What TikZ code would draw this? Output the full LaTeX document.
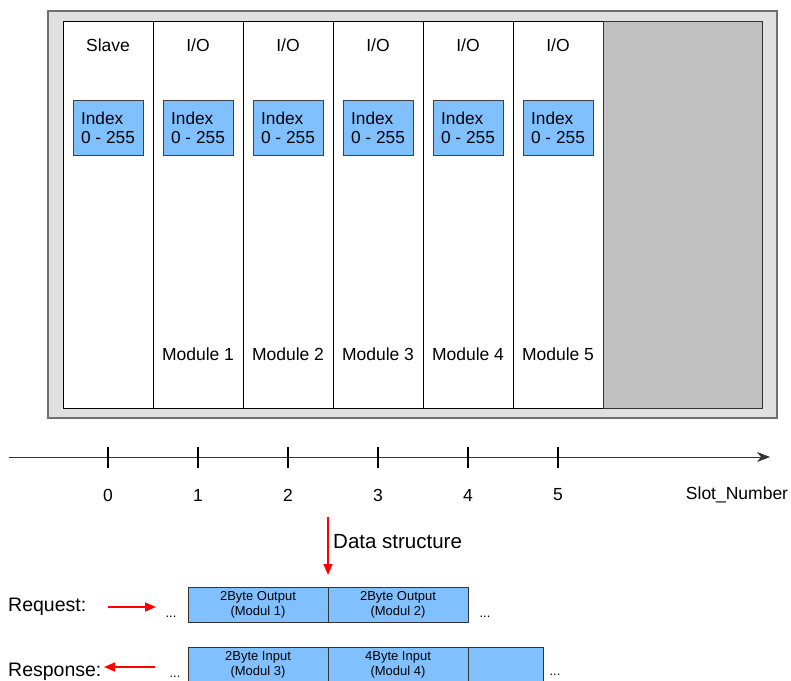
\documentclass[tikz,border=0pt]{standalone}
\usepackage{fontspec}
\setmainfont{Liberation Sans}
\usetikzlibrary{arrows.meta}
\definecolor{framefill}{HTML}{E0E0E0}
\definecolor{framedraw}{HTML}{707070}
\definecolor{emptyslot}{HTML}{C0C0C0}
\definecolor{idxblue}{HTML}{80C0FF}
\definecolor{arrowred}{HTML}{FF0000}
\begin{document}
\begin{tikzpicture}[x=1pt,y=-1pt,
  outerframe/.style={draw=framedraw,fill=framefill,line width=1.4pt,inner sep=0pt,minimum width=729pt,minimum height=407pt},
  slotcol/.style={draw=black,fill=white,line width=0.8pt,inner sep=0pt,minimum width=90pt,minimum height=387pt},
  emptycol/.style={draw=black!80,fill=emptyslot,line width=0.8pt,inner sep=0pt,minimum width=159pt,minimum height=387pt},
  idxbox/.style={draw=black!75,fill=idxblue,line width=0.7pt,minimum width=70pt,minimum height=55pt,inner sep=0pt,align=left,font=\fontsize{17.3}{19}\selectfont},
  bigtxt/.style={font=\fontsize{17.5}{19}\selectfont,inner sep=0pt},
  hugetxt/.style={font=\fontsize{19.5}{22}\selectfont,inner sep=0pt},
  datatxt/.style={font=\fontsize{20.5}{22}\selectfont,inner sep=0pt},
  databox/.style={draw=black!80,fill=idxblue,line width=0.8pt,minimum height=35pt,inner sep=0pt,align=center,font=\fontsize{13}{15}\selectfont},
  dots/.style={font=\fontsize{13}{15}\selectfont,inner sep=0pt},
  redarrow/.style={draw=arrowred,line width=1.5pt,-{Triangle[length=11pt,width=9pt]},fill=arrowred},
  tickmark/.style={draw=black,line width=1.4pt}
]
\useasboundingbox (0,0) rectangle (791,680);
\clip (0,0) rectangle (791,680);

% frame
\node[outerframe] (frame) at (412.5,214.5) {};
\foreach \i in {0,...,5}{
  \node[slotcol] (col\i) at (108+90*\i,214.5) {};
}
\node[emptycol] (empty) at (682.5,214.5) {};

% column headings
\node[bigtxt] (h0) at (108,45) {Slave};
\foreach \i in {1,...,5}{
  \node[bigtxt] (h\i) at (108+90*\i,45) {I/O};
}
% index boxes
\foreach \i in {0,...,5}{
  \node[idxbox] (idx\i) at (108+90*\i,127.5) {Index\\0 - 255};
}
% module labels
\foreach \i in {1,...,5}{
  \node[bigtxt] (m\i) at (108+90*\i,354) {Module \i};
}

% axis
\coordinate (ax0) at (9,457);
\coordinate (ax1) at (770,457);
\draw[black!80,line width=0.9pt,-{Stealth[length=13pt,width=10pt,inset=4pt]}] (ax0) -- (ax1);
\foreach \i in {0,...,5}{
  \coordinate (tt\i) at (108+90*\i,447);
  \coordinate (tb\i) at (108+90*\i,468);
  \draw[tickmark] (tt\i) -- (tb\i);
  \node[bigtxt] (n\i) at (108+90*\i,495) {\i};
}
\node[bigtxt] (slot) at (737,495) {Slot\_Number};

% data structure arrow
\coordinate (ds0) at (328,517);
\coordinate (ds1) at (328,575);
\draw[redarrow] (ds0) -- (ds1);
\node[datatxt,anchor=west] (dslabel) at (333,542) {Data structure};

% request row
\node[hugetxt,anchor=west] (req) at (8,607) {Request:};
\node[databox,minimum width=140pt] (rq1) at (258,604.5) {2Byte Output\\(Modul 1)};
\node[databox,minimum width=140pt] (rq2) at (398,604.5) {2Byte Output\\(Modul 2)};
\node[dots] (rqdl) at (171,617) {...};
\node[dots] (rqdr) at (485,617) {...};
\coordinate (ra0) at (108,607);
\coordinate (ra1) at (156,607);
\draw[redarrow] (ra0) -- (ra1);

% response row
\node[hugetxt,anchor=west] (resp) at (8,672) {Response:};
\node[databox,minimum width=140pt] (rs1) at (258,664.5) {2Byte Input\\(Modul 3)};
\node[databox,minimum width=140pt] (rs2) at (398,664.5) {4Byte Input\\(Modul 4)};
\node[databox,minimum width=75pt] (rs3) at (505.5,664.5) {};
\coordinate (sa0) at (155,667);
\coordinate (sa1) at (104,667);
\draw[redarrow] (sa0) -- (sa1);
\node[dots] (rsdl) at (175,677) {...};
\node[dots] (rsdr) at (555,675) {...};
\end{tikzpicture}
\end{document}
